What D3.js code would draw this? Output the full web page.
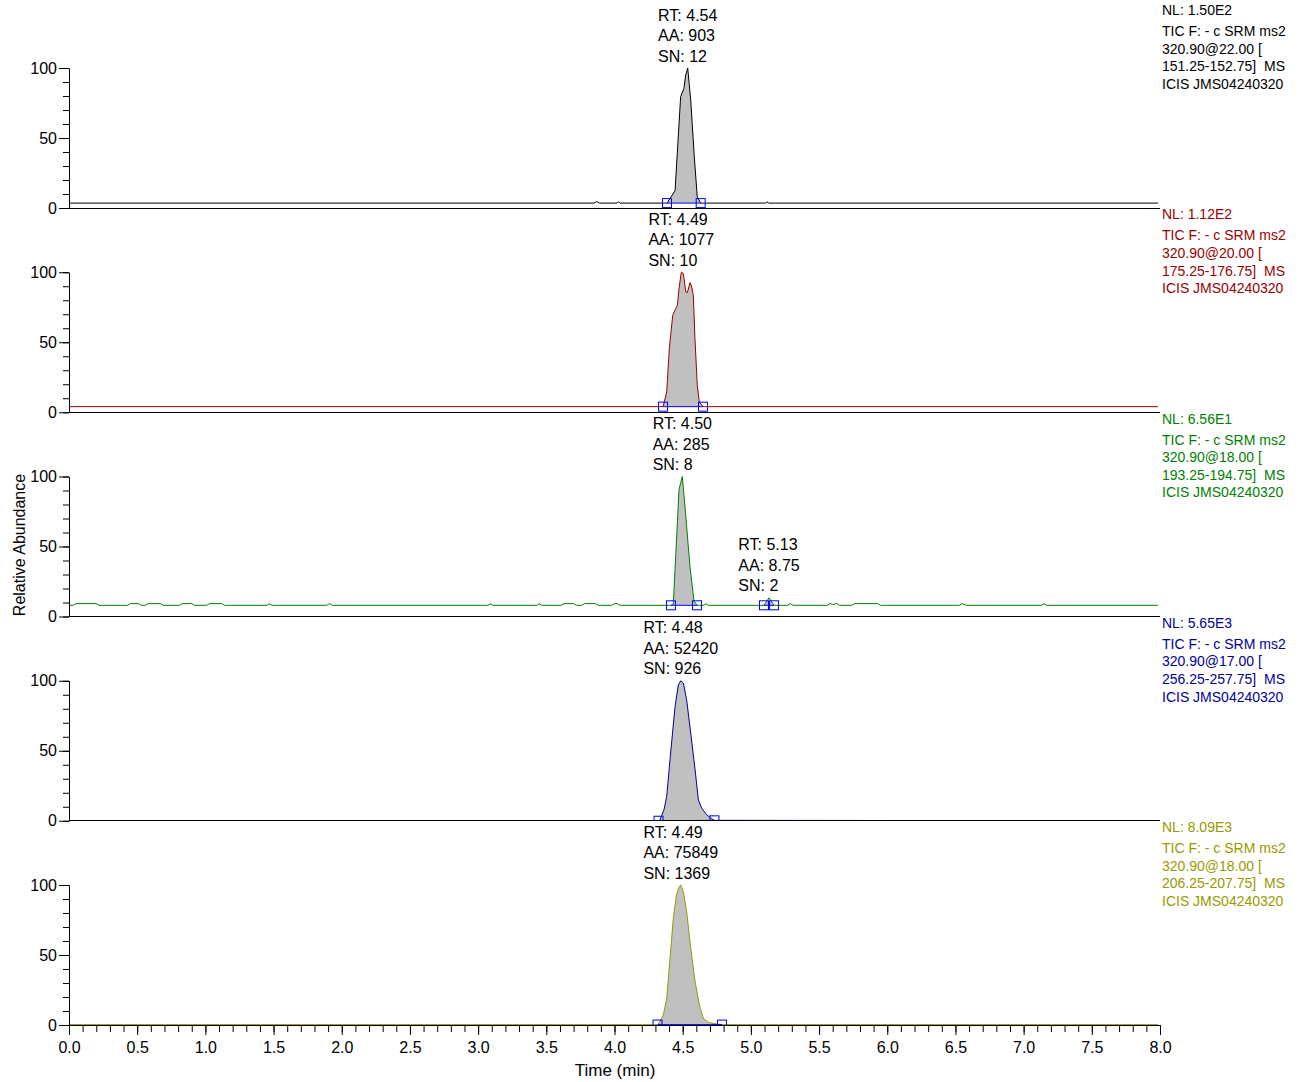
<!DOCTYPE html>
<html>
<head>
<meta charset="utf-8">
<script src="https://cdn.jsdelivr.net/npm/d3@7"></script>
<style>
body{margin:0;background:#fff;}
svg text{font-family:"Liberation Sans", Arial, sans-serif;}
</style>
</head>
<body>
<script>
//wrap everything in a self-executing function
(function(){

//traces: [time (min), relative abundance]
var traceBlack = [
  [0.00, 3.5], [3.85, 3.5], [3.87, 4.6], [3.89, 3.5], [4.02, 3.5], [4.03, 4.5], [4.04, 3.5],
  [4.385, 3.5], [4.444, 12.4], [4.485, 79.5], [4.509, 85.5], [4.522, 95.0], [4.537, 100],
  [4.559, 77.0], [4.585, 36.6], [4.607, 8.0], [4.632, 3.5],
  [5.11, 3.5], [5.12, 4.5], [5.13, 3.5], [7.985, 3.5]
];
var traceRed = [
  [0.00, 4.0], [4.356, 4.0], [4.383, 14.5], [4.402, 45.5], [4.427, 69.3], [4.449, 74.0],
  [4.461, 76.4], [4.473, 88.3], [4.490, 100], [4.505, 99.0], [4.523, 86.0], [4.534, 85.5],
  [4.554, 92.6], [4.566, 89.5], [4.578, 83.6], [4.590, 52.6], [4.607, 19.3], [4.622, 7.4],
  [4.649, 4.0], [7.985, 4.0]
];
var traceGreen = [
  [0.00, 8.0], [0.03, 8.0], [0.05, 9.2], [0.20, 9.2], [0.22, 8.0],
  [0.43, 8.0], [0.45, 9.2], [0.51, 9.2], [0.53, 8.0],
  [0.56, 8.0], [0.58, 9.2], [0.67, 9.2], [0.69, 8.0],
  [0.81, 8.0], [0.83, 9.2], [0.90, 9.2], [0.92, 8.0],
  [1.01, 8.0], [1.03, 9.2], [1.12, 9.2], [1.14, 8.0],
  [1.45, 8.0], [1.47, 9.0], [1.49, 8.0],
  [1.89, 8.0], [1.91, 9.2], [1.93, 8.0],
  [3.07, 8.0], [3.09, 9.0], [3.11, 8.0],
  [3.43, 8.0], [3.45, 9.0], [3.47, 8.0],
  [3.61, 8.0], [3.63, 9.2], [3.70, 9.2], [3.72, 8.0],
  [3.76, 8.0], [3.78, 9.2], [3.86, 9.2], [3.88, 8.0],
  [3.98, 8.0], [4.00, 9.2], [4.02, 9.2], [4.04, 8.0],
  [4.414, 8.0], [4.431, 8.6], [4.473, 90.7], [4.497, 100], [4.519, 76.4], [4.553, 36.0],
  [4.583, 11.0], [4.605, 8.0],
  [4.65, 8.0], [4.67, 9.0], [4.69, 8.0],
  [5.096, 8.0], [5.133, 13.3], [5.170, 8.0],
  [5.27, 8.0], [5.29, 9.2], [5.31, 8.0],
  [5.56, 8.0], [5.58, 9.2], [5.60, 8.6], [5.63, 9.2], [5.65, 8.0],
  [5.74, 8.0], [5.76, 9.2], [5.93, 9.2], [5.95, 8.0],
  [6.53, 8.0], [6.55, 9.2], [6.58, 8.0],
  [7.13, 8.0], [7.15, 9.2], [7.17, 8.0],
  [7.985, 8.0]
];
var traceBlue = [
  [0.00, 0.0], [4.323, 0.0], [4.334, 0.7], [4.363, 7.9], [4.383, 17.4], [4.407, 43.6],
  [4.444, 81.6], [4.468, 97.0], [4.486, 100], [4.505, 98.3], [4.529, 86.4], [4.559, 62.6],
  [4.591, 36.4], [4.615, 15.0], [4.639, 9.0], [4.676, 4.3], [4.713, 1.4], [4.733, 0.3],
  [7.985, 0.0]
];
var traceOlive = [
  [0.00, 0.3], [4.315, 0.3], [4.321, 0.5], [4.358, 7.1], [4.383, 19.0], [4.407, 47.6],
  [4.431, 76.0], [4.456, 94.0], [4.475, 98.5], [4.486, 100], [4.505, 95.0], [4.529, 81.0],
  [4.559, 54.8], [4.591, 31.0], [4.622, 14.3], [4.651, 4.8], [4.688, 1.9], [4.749, 0.7],
  [4.788, 0.3], [7.985, 0.3]
];
var traces = [traceBlack, traceRed, traceGreen, traceBlue, traceOlive];
var traceColors = ["#000000", "#990000", "#008000", "#000099", "#999900"];

//header text at the right of each panel
var labelNL = ["NL: 1.50E2", "NL: 1.12E2", "NL: 6.56E1", "NL: 5.65E3", "NL: 8.09E3"];
var labelScan = "TIC F: - c SRM ms2";
var labelCE = ["320.90@22.00 [", "320.90@20.00 [", "320.90@18.00 [", "320.90@17.00 [", "320.90@18.00 ["];
var labelMass = ["151.25-152.75]  MS", "175.25-176.75]  MS", "193.25-194.75]  MS", "256.25-257.75]  MS", "206.25-207.75]  MS"];
var labelFile = "ICIS JMS04240320";

//integrated peaks
var peakPanel = [0, 1, 2, 2, 3, 4];
var peakRT = ["4.54", "4.49", "4.50", "5.13", "4.48", "4.49"];
var peakAA = ["903", "1077", "285", "8.75", "52420", "75849"];
var peakSN = ["12", "10", "8", "2", "926", "1369"];
var peakStart = [4.385, 4.356, 4.414, 5.096, 4.323, 4.315];
var peakEnd = [4.632, 4.649, 4.605, 5.170, 4.733, 4.788];

//axis ticks
var xMajorTicks = [0, 0.5, 1, 1.5, 2, 2.5, 3, 3.5, 4, 4.5, 5, 5.5, 6, 6.5, 7, 7.5, 8];
var yMajorTicks = [0, 50, 100];
var yMinorTicks = [0, 10, 20, 30, 40, 50, 60, 70, 80, 90, 100];

window.onload = setChart();

function setChart(){
    //frame dimensions
    var width = 1304,
        height = 1082,
        left = 69,
        right = 1160,
        panelZero = 208,
        panelStep = 204.25,
        panelHeight = 140;

    var svg = d3.select("body")
        .append("svg")
        .attr("width", width)
        .attr("height", height);

    var x = d3.scaleLinear()
        .domain([0, 8])
        .range([left, right]);

    traces.forEach(function(trace, k){
        var y0 = panelZero + k * panelStep;
        var y = d3.scaleLinear()
            .domain([0, 100])
            .range([y0, y0 - panelHeight]);

        var panel = svg.append("g").attr("class", "panel");

        //clip marks to the plot area
        panel.append("clipPath")
            .attr("id", "clip" + k)
            .append("rect")
            .attr("x", left)
            .attr("y", y0 - panelHeight - 60)
            .attr("width", right - left)
            .attr("height", panelHeight + 60);

        var plot = panel.append("g").attr("clip-path", "url(#clip" + k + ")");

        var line = d3.line()
            .x(function(d){ return x(d[0]); })
            .y(function(d){ return y(d[1]); });

        //peaks of this panel
        var idx = [];
        peakPanel.forEach(function(p, i){ if (p == k) idx.push(i); });

        //gray area of the integrated peaks
        idx.forEach(function(i){
            var pts = peakPoints(trace, peakStart[i], peakEnd[i]);
            plot.append("path")
                .attr("d", line(pts) + "Z")
                .attr("fill", "#c0c0c0")
                .attr("stroke", "none");
        });

        //trace
        plot.append("path")
            .datum(trace)
            .attr("d", line)
            .attr("fill", "none")
            .attr("stroke", traceColors[k])
            .attr("stroke-width", 1);

        //peak baseline and boundary boxes
        idx.forEach(function(i){
            var a = [peakStart[i], valueAt(trace, peakStart[i])],
                b = [peakEnd[i], valueAt(trace, peakEnd[i])];
            plot.append("line")
                .attr("x1", x(a[0])).attr("y1", y(a[1]))
                .attr("x2", x(b[0])).attr("y2", y(b[1]))
                .attr("stroke", "#0000ff")
                .attr("stroke-width", 1);
            [a, b].forEach(function(p){
                plot.append("rect")
                    .attr("x", x(p[0]) - 4.5)
                    .attr("y", y(p[1]) - 4.5)
                    .attr("width", 9)
                    .attr("height", 9)
                    .attr("fill", "none")
                    .attr("stroke", "#0000ff")
                    .attr("stroke-width", 1);
            });
        });

        //peak annotations, left aligned block centered on the apex
        idx.forEach(function(i){
            var pts = peakPoints(trace, peakStart[i], peakEnd[i]);
            var apex = pts.reduce(function(m, d){ return d[1] > m[1] ? d : m; }, pts[0]);
            var lines = ["RT: " + peakRT[i], "AA: " + peakAA[i], "SN: " + peakSN[i]];
            var block = panel.append("g");
            var texts = block.selectAll("text")
                .data(lines)
                .enter()
                .append("text")
                .attr("y", function(d, j){ return y(apex[1]) - 6.5 - (2 - j) * 20.5; })
                .attr("font-size", "16px")
                .attr("fill", "#000")
                .text(function(d){ return d; });
            var w = 0;
            texts.each(function(){ w = Math.max(w, this.getComputedTextLength()); });
            texts.attr("x", x(apex[0]) - w / 2);
        });

        //y axis: minor then major ticks
        panel.append("g")
            .attr("transform", "translate(" + left + ",0)")
            .call(d3.axisLeft(y).tickValues(yMinorTicks).tickSize(6).tickSizeOuter(0).tickFormat(""));
        var yAxis = panel.append("g")
            .attr("class", "axis")
            .attr("transform", "translate(" + left + ",0)")
            .call(d3.axisLeft(y).tickValues(yMajorTicks).tickSize(10).tickPadding(2).tickSizeOuter(0));
        yAxis.selectAll("text").attr("font-size", "16px").attr("fill", "#000")
            .attr("font-family", "Liberation Sans, Arial, sans-serif");

        //zero line of the panel
        if (k < traces.length - 1){
            panel.append("line")
                .attr("x1", left).attr("x2", right)
                .attr("y1", y0).attr("y2", y0)
                .attr("stroke", "#000")
                .attr("shape-rendering", "crispEdges");
        } else {
            //time axis on the last panel
            panel.append("g")
                .attr("transform", "translate(0," + y0 + ")")
                .call(d3.axisBottom(x).tickValues(d3.range(0, 8.05, 0.1)).tickSize(7).tickSizeOuter(0).tickFormat(""));
            var xAxis = panel.append("g")
                .attr("transform", "translate(0," + y0 + ")")
                .call(d3.axisBottom(x).tickValues(xMajorTicks).tickSize(10).tickPadding(7).tickSizeOuter(0).tickFormat(d3.format(".1f")));
            xAxis.selectAll("text").attr("font-size", "16px").attr("fill", "#000")
                .attr("font-family", "Liberation Sans, Arial, sans-serif");
        }

        //header text
        var header = [labelNL[k], labelScan, labelCE[k], labelMass[k], labelFile];
        panel.selectAll(".header")
            .data(header)
            .enter()
            .append("text")
            .attr("class", "header")
            .attr("x", 1162)
            .attr("y", function(d, j){ return 15 + k * panelStep + (j > 0 ? 3.5 : 0) + j * 17.6; })
            .attr("font-size", "14px")
            .attr("fill", traceColors[k])
            .style("white-space", "pre")
            .text(function(d){ return d; });
    });

    //axis titles
    svg.append("text")
        .attr("transform", "translate(25,545) rotate(-90)")
        .attr("text-anchor", "middle")
        .attr("font-size", "16px")
        .text("Relative Abundance");

    svg.append("text")
        .attr("x", 615)
        .attr("y", 1076)
        .attr("text-anchor", "middle")
        .attr("font-size", "17px")
        .text("Time (min)");
};

//trace points between the peak start and end, with the two ends interpolated
function peakPoints(trace, t0, t1){
    var pts = [[t0, valueAt(trace, t0)]];
    trace.forEach(function(d){ if (d[0] > t0 && d[0] < t1) pts.push(d); });
    pts.push([t1, valueAt(trace, t1)]);
    return pts;
};

//linear reading of a trace at time t
function valueAt(trace, t){
    var i = d3.bisector(function(d){ return d[0]; }).left(trace, t);
    if (i <= 0) return trace[0][1];
    if (i >= trace.length) return trace[trace.length - 1][1];
    var a = trace[i - 1], b = trace[i];
    if (b[0] == t) return b[1];
    return a[1] + (b[1] - a[1]) * (t - a[0]) / (b[0] - a[0]);
};
})();
</script>
</body>
</html>
